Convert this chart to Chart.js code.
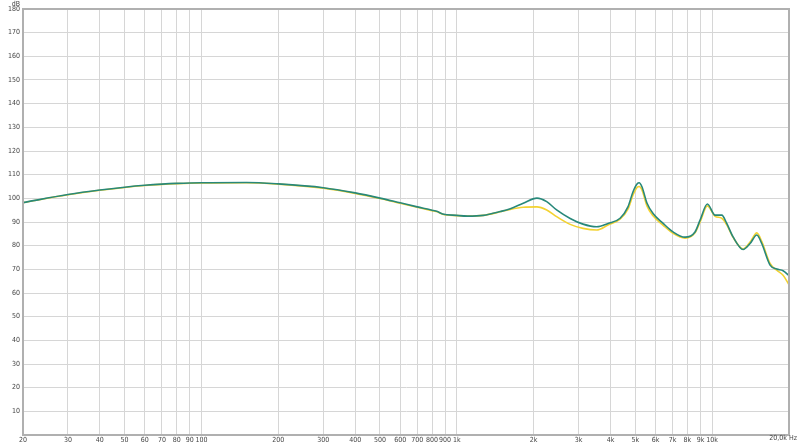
<!DOCTYPE html>
<html>
<head>
<meta charset="utf-8">
<script src="https://cdn.jsdelivr.net/npm/chart.js@4/dist/chart.umd.min.js"></script>
<style>
  html, body { margin: 0; padding: 0; background: #fff; }
  #wrap { width: 800px; height: 443px; }
</style>
</head>
<body>
<div id="wrap"><canvas id="fr" width="800" height="443"></canvas></div>
<script>
// frequency points (Hz) shared by both traces
const freqs = [20, 30, 40, 50, 60, 70, 80, 100, 150, 200, 300, 400, 500, 600, 700, 800, 840, 880,
  1000, 1100, 1270, 1480, 1620, 1820, 2060, 2250, 2460, 2780, 3120, 3530, 3910, 4360, 4680, 4900,
  5080, 5180, 5310, 5560, 5870, 6430, 7030, 7830, 8570, 8970, 9580, 10270, 10910, 11410, 12080,
  13220, 14080, 14960, 15640, 16860, 17910, 18960, 20000];

const tealDb = [98.2, 101.6, 103.5, 104.7, 105.5, 106.0, 106.3, 106.6, 106.7, 106.1, 104.5, 102.3,
  100.1, 98.1, 96.4, 95.0, 94.4, 93.4, 92.8, 92.5, 92.8, 94.4, 95.6, 97.9, 100.1, 98.6, 95.1, 91.5,
  89.1, 88.0, 89.4, 91.6, 96.4, 102.8, 106.1, 106.6, 104.9, 97.9, 93.6, 89.4, 85.8, 83.6, 85.8,
  90.8, 97.6, 92.9, 92.9, 89.4, 83.7, 78.4, 80.9, 84.5, 80.9, 71.8, 70.1, 69.4, 67.3];

const yellowDb = [98.2, 101.5, 103.4, 104.6, 105.4, 105.9, 106.2, 106.5, 106.6, 106.0, 104.3, 102.1,
  99.9, 97.9, 96.2, 94.8, 94.3, 93.3, 92.7, 92.5, 92.8, 94.3, 95.3, 96.2, 96.4, 95.1, 92.3, 89.0,
  87.3, 86.6, 88.7, 91.2, 95.4, 101.4, 104.6, 105.0, 103.6, 96.7, 92.6, 88.6, 85.2, 83.2, 85.4,
  90.0, 96.8, 92.4, 91.6, 88.8, 83.5, 78.6, 81.5, 85.4, 81.8, 72.5, 69.6, 67.5, 63.5];

// x grid / tick positions and their labels
const xTicks = [20, 30, 40, 50, 60, 70, 80, 90, 100, 200, 300, 400, 500, 600, 700, 800, 900,
  1000, 2000, 3000, 4000, 5000, 6000, 7000, 8000, 9000, 10000, 20000];
const xLabels = ['20', '30', '40', '50', '60', '70', '80', '90', '100', '200', '300', '400', '500',
  '600', '700', '800', '900', '1k', '2k', '3k', '4k', '5k', '6k', '7k', '8k', '9k', '10k', ''];

const FONT = { family: '"Liberation Sans Narrow", "DejaVu Sans Condensed", Arial, sans-serif', size: 7 };
const LABEL_COLOR = '#444';

const toPoints = arr => freqs.map((f, i) => ({ x: f, y: arr[i] }));

// frame + unit labels
const framePlugin = {
  id: 'frame',
  afterDraw(chart) {
    const { ctx, chartArea: a } = chart;
    ctx.save();
    ctx.strokeStyle = '#b0b0b0';
    ctx.lineWidth = 2;
    ctx.strokeRect(a.left, a.top, a.right - a.left, a.bottom - a.top);
    ctx.fillStyle = LABEL_COLOR;
    ctx.font = FONT.size + 'px ' + FONT.family;
    ctx.textBaseline = 'middle';
    ctx.textAlign = 'right';
    ctx.fillText('dB', 20, 4);
    ctx.fillText('20,0k Hz', 797, 438);
    ctx.restore();
  }
};

new Chart(document.getElementById('fr'), {
  type: 'line',
  data: {
    datasets: [
      {
        label: 'B',
        data: toPoints(tealDb),
        borderColor: '#28887a',
        borderWidth: 1.6,
        pointRadius: 0,
        cubicInterpolationMode: 'monotone',
        order: 0,
      },
      {
        label: 'A',
        data: toPoints(yellowDb),
        borderColor: '#f3d230',
        borderWidth: 1.6,
        pointRadius: 0,
        cubicInterpolationMode: 'monotone',
        order: 1,
      }
    ]
  },
  options: {
    responsive: false,
    animation: false,
    layout: { padding: { top: 9, right: 11, left: 0, bottom: 0 } },
    plugins: { legend: { display: false }, tooltip: { enabled: false } },
    scales: {
      x: {
        type: 'logarithmic',
        min: 20,
        max: 20000,
        afterBuildTicks: s => { s.ticks = xTicks.map(v => ({ value: v })); },
        afterFit: s => { s.height = 8; },
        ticks: {
          autoSkip: false,
          maxRotation: 0,
          padding: 1,
          color: LABEL_COLOR,
          font: FONT,
          callback: (v) => {
            const i = xTicks.indexOf(v);
            return i >= 0 ? xLabels[i] : '';
          }
        },
        grid: { color: '#d6d6d6', lineWidth: 1, tickLength: 0 },
        border: { color: '#b0b0b0', width: 2 }
      },
      y: {
        min: 0,
        max: 180,
        afterFit: s => { s.width = 23; },
        ticks: {
          stepSize: 10,
          padding: 3,
          color: LABEL_COLOR,
          font: FONT,
          callback: v => (v === 0 ? '' : v)
        },
        grid: { color: '#d6d6d6', lineWidth: 1, tickLength: 0 },
        border: { color: '#b0b0b0', width: 2 }
      }
    }
  },
  plugins: [framePlugin]
});
</script>
</body>
</html>
